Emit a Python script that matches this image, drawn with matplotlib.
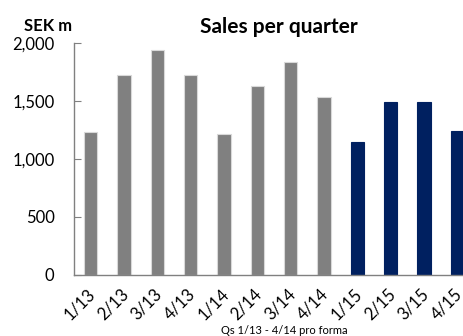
import matplotlib
matplotlib.use("Agg")
import matplotlib.pyplot as plt
import matplotlib.transforms as mtransforms
import numpy as np

plt.rcParams['font.family'] = ['Lato', 'DejaVu Sans']

quarters = ['1/13', '2/13', '3/13', '4/13', '1/14', '2/14', '3/14', '4/14',
            '1/15', '2/15', '3/15', '4/15']
sales = [1228, 1722, 1940, 1722, 1216, 1624, 1831, 1529,
         1144, 1491, 1491, 1241]
pro_forma = [True] * 8 + [False] * 4

grey = '#808080'
navy = '#002060'
colors = [grey if p else navy for p in pro_forma]
edges = ['#d9d9d9' if p else navy for p in pro_forma]

fig = plt.figure(figsize=(4.64, 3.36), dpi=100)
ax = fig.add_axes([74 / 464, 1 - 274.7 / 336, 400 / 464, 232 / 336])

x = np.arange(len(quarters))
ax.bar(x, sales, width=0.4, color=colors, edgecolor=edges, linewidth=0.8)

ax.set_xlim(-0.5, len(quarters) - 0.5)
ax.set_ylim(0, 2000)
ax.set_yticks([0, 500, 1000, 1500, 2000])
ax.set_yticklabels(['0', '500', '1,000', '1,500', '2,000'], fontsize=12)
ax.tick_params(axis='y', direction='in', length=5, color=grey, pad=14)
ax.set_xticks(x)
ax.set_xticklabels(quarters, rotation=45, ha='right', va='center',
                   rotation_mode='anchor', fontsize=12)
ax.tick_params(axis='x', length=0, pad=12)
shift = mtransforms.ScaledTranslation(2 / 100, 0, fig.dpi_scale_trans)
for lbl in ax.get_xticklabels():
    lbl.set_transform(lbl.get_transform() + shift)

for s in ['top', 'right']:
    ax.spines[s].set_visible(False)
for s in ['left', 'bottom']:
    ax.spines[s].set_color(grey)
    ax.spines[s].set_linewidth(1)

fig.text(279 / 464, 1 - 27 / 336, 'Sales per quarter', ha='center', va='center',
         fontsize=15, fontweight='bold')
fig.text(48 / 464, 1 - 26 / 336, 'SEK m', ha='center', va='center',
         fontsize=12, fontweight='bold')
fig.text(284 / 464, 1 - 331 / 336, 'Qs 1/13 - 4/14 pro forma', ha='center',
         va='center', fontsize=8)

fig.savefig('out.png', dpi=100)
